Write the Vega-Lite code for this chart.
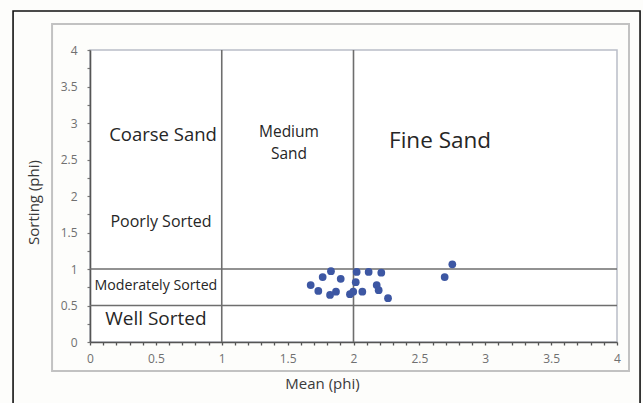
{
  "$schema": "https://vega.github.io/schema/vega-lite/v6.json",
  "width": 527,
  "height": 292,
  "autosize": "none",
  "padding": {"left": 90, "top": 50, "right": 26, "bottom": 61},
  "background": "#fdfdfb",
  "config": {
    "view": {"stroke": "#b9bdc8", "strokeWidth": 1.5, "fill": "#ffffff"},
    "font": "Open Sans",
    "text": {"font": "Open Sans", "color": "#262626"}
  },
  "resolve": {"axis": {"x": "independent", "y": "independent"}},
  "layer": [
    {
      "data": {"values": [{}]},
      "mark": {"type": "rect", "fill": null, "stroke": "#111111", "strokeWidth": 1.6},
      "encoding": {
        "x": {"datum": -0.584, "type": "quantitative", "scale": {"domain": [0, 4], "nice": false}, "axis": null},
        "x2": {"datum": 4.175},
        "y": {"datum": 4.534, "type": "quantitative", "scale": {"domain": [0, 4], "nice": false}, "axis": null},
        "y2": {"datum": -1.0}
      }
    },
    {
      "data": {"values": [{}]},
      "mark": {"type": "rect", "fill": null, "stroke": "#c2c2c2", "strokeWidth": 2},
      "encoding": {
        "x": {"datum": -0.288, "type": "quantitative", "scale": {"domain": [0, 4], "nice": false}, "axis": null},
        "x2": {"datum": 4.091},
        "y": {"datum": 4.356, "type": "quantitative", "scale": {"domain": [0, 4], "nice": false}, "axis": null},
        "y2": {"datum": -0.397}
      }
    },
    {
      "data": {"values": [{"mean": 1}, {"mean": 2}]},
      "mark": {"type": "rule", "color": "#6e6e6e", "strokeWidth": 1.6},
      "encoding": {
        "x": {"field": "mean", "type": "quantitative", "scale": {"domain": [0, 4], "nice": false}, "axis": null}
      }
    },
    {
      "data": {"values": [{"sorting": 0.5}, {"sorting": 1}]},
      "mark": {"type": "rule", "color": "#6e6e6e", "strokeWidth": 1.6},
      "encoding": {
        "y": {"field": "sorting", "type": "quantitative", "scale": {"domain": [0, 4], "nice": false}, "axis": null}
      }
    },
    {
      "data": {
        "values": [
          {"mean": 1.675, "sorting": 0.78},
          {"mean": 1.733, "sorting": 0.70},
          {"mean": 1.766, "sorting": 0.89},
          {"mean": 1.829, "sorting": 0.97},
          {"mean": 1.822, "sorting": 0.645},
          {"mean": 1.867, "sorting": 0.69},
          {"mean": 1.903, "sorting": 0.865},
          {"mean": 1.973, "sorting": 0.655},
          {"mean": 1.998, "sorting": 0.69},
          {"mean": 2.017, "sorting": 0.82},
          {"mean": 2.024, "sorting": 0.96},
          {"mean": 2.067, "sorting": 0.69},
          {"mean": 2.115, "sorting": 0.96},
          {"mean": 2.176, "sorting": 0.78},
          {"mean": 2.191, "sorting": 0.71},
          {"mean": 2.211, "sorting": 0.95},
          {"mean": 2.262, "sorting": 0.60},
          {"mean": 2.692, "sorting": 0.89},
          {"mean": 2.750, "sorting": 1.065}
        ]
      },
      "mark": {"type": "circle", "color": "#3d57a3", "opacity": 1, "size": 60},
      "encoding": {
        "x": {
          "field": "mean",
          "type": "quantitative",
          "scale": {"domain": [0, 4], "nice": false},
          "axis": {
            "title": "Mean (phi)",
            "titleFont": "Open Sans",
            "titleFontSize": 15,
            "titleFontWeight": "normal",
            "titleColor": "#3a3a3a",
            "titleX": 232,
            "titlePadding": 12,
            "grid": false,
            "domainColor": "#555555",
            "domainWidth": 1.6,
            "tickColor": "#555555",
            "tickWidth": 1.3,
            "tickSize": 3,
            "labelFont": "Open Sans",
            "labelFontSize": 12,
            "labelColor": "#707070",
            "labelPadding": 8,
            "labelFlush": false,
            "labelOverlap": false,
            "values": [0, 0.1, 0.2, 0.3, 0.4, 0.5, 0.6, 0.7, 0.8, 0.9, 1, 1.1, 1.2, 1.3, 1.4, 1.5, 1.6, 1.7, 1.8, 1.9, 2, 2.1, 2.2, 2.3, 2.4, 2.5, 2.6, 2.7, 2.8, 2.9, 3, 3.1, 3.2, 3.3, 3.4, 3.5, 3.6, 3.7, 3.8, 3.9, 4],
            "labelExpr": "abs(datum.value * 2 - round(datum.value * 2)) < 0.001 ? format(datum.value, '~g') : ''"
          }
        },
        "y": {
          "field": "sorting",
          "type": "quantitative",
          "scale": {"domain": [0, 4], "nice": false},
          "axis": {
            "title": "Sorting (phi)",
            "titleFont": "Open Sans",
            "titleFontSize": 15,
            "titleFontWeight": "normal",
            "titleColor": "#3a3a3a",
            "titleY": 152,
            "titlePadding": 19,
            "grid": false,
            "domainColor": "#555555",
            "domainWidth": 1.6,
            "tickColor": "#777777",
            "tickWidth": 1.2,
            "tickSize": 3,
            "labelFont": "Open Sans",
            "labelFontSize": 12,
            "labelColor": "#707070",
            "labelPadding": 10,
            "labelFlush": false,
            "labelOverlap": false,
            "values": [0, 0.25, 0.5, 0.75, 1, 1.25, 1.5, 1.75, 2, 2.25, 2.5, 2.75, 3, 3.25, 3.5, 3.75, 4],
            "labelExpr": "abs(datum.value * 2 - round(datum.value * 2)) < 0.001 ? format(datum.value, '~g') : ''"
          }
        }
      }
    },
    {
      "data": {"values": [{"label": "Coarse Sand", "mean": 0.554, "sorting": 2.83}]},
      "mark": {"type": "text", "fontSize": 18.5, "align": "center", "baseline": "middle"},
      "encoding": {
        "x": {"field": "mean", "type": "quantitative", "scale": {"domain": [0, 4], "nice": false}, "axis": null},
        "y": {"field": "sorting", "type": "quantitative", "scale": {"domain": [0, 4], "nice": false}, "axis": null},
        "text": {"field": "label"}
      }
    },
    {
      "data": {"values": [{"label": "Medium", "mean": 1.51, "sorting": 2.88}, {"label": "Sand", "mean": 1.51, "sorting": 2.57}]},
      "mark": {"type": "text", "fontSize": 15.5, "align": "center", "baseline": "middle"},
      "encoding": {
        "x": {"field": "mean", "type": "quantitative", "scale": {"domain": [0, 4], "nice": false}, "axis": null},
        "y": {"field": "sorting", "type": "quantitative", "scale": {"domain": [0, 4], "nice": false}, "axis": null},
        "text": {"field": "label"}
      }
    },
    {
      "data": {"values": [{"label": "Fine Sand", "mean": 2.657, "sorting": 2.76}]},
      "mark": {"type": "text", "fontSize": 22.5, "align": "center", "baseline": "middle"},
      "encoding": {
        "x": {"field": "mean", "type": "quantitative", "scale": {"domain": [0, 4], "nice": false}, "axis": null},
        "y": {"field": "sorting", "type": "quantitative", "scale": {"domain": [0, 4], "nice": false}, "axis": null},
        "text": {"field": "label"}
      }
    },
    {
      "data": {"values": [{"label": "Poorly Sorted", "mean": 0.539, "sorting": 1.64}]},
      "mark": {"type": "text", "fontSize": 16, "align": "center", "baseline": "middle"},
      "encoding": {
        "x": {"field": "mean", "type": "quantitative", "scale": {"domain": [0, 4], "nice": false}, "axis": null},
        "y": {"field": "sorting", "type": "quantitative", "scale": {"domain": [0, 4], "nice": false}, "axis": null},
        "text": {"field": "label"}
      }
    },
    {
      "data": {"values": [{"label": "Moderately Sorted", "mean": 0.5, "sorting": 0.77}]},
      "mark": {"type": "text", "fontSize": 14.2, "align": "center", "baseline": "middle"},
      "encoding": {
        "x": {"field": "mean", "type": "quantitative", "scale": {"domain": [0, 4], "nice": false}, "axis": null},
        "y": {"field": "sorting", "type": "quantitative", "scale": {"domain": [0, 4], "nice": false}, "axis": null},
        "text": {"field": "label"}
      }
    },
    {
      "data": {"values": [{"label": "Well Sorted", "mean": 0.5, "sorting": 0.32}]},
      "mark": {"type": "text", "fontSize": 19, "align": "center", "baseline": "middle"},
      "encoding": {
        "x": {"field": "mean", "type": "quantitative", "scale": {"domain": [0, 4], "nice": false}, "axis": null},
        "y": {"field": "sorting", "type": "quantitative", "scale": {"domain": [0, 4], "nice": false}, "axis": null},
        "text": {"field": "label"}
      }
    }
  ]
}
